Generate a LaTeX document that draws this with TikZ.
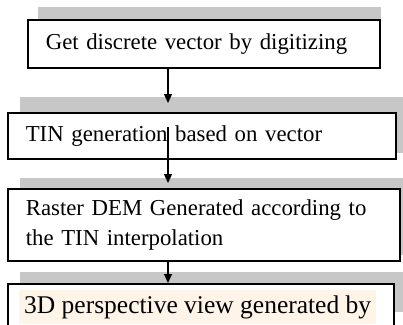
\documentclass[tikz,border=0pt]{standalone}
\usepackage{fontspec}
\setmainfont{Liberation Serif}
\usetikzlibrary{arrows.meta}
\usetikzlibrary{positioning}

\begin{document}
\begin{tikzpicture}[x=1pt,y=-1pt,
      box/.style={draw, line width=1.6pt, anchor=north west, inner xsep=18pt,
        inner ysep=0pt, align=left, font=\fontsize{22.8}{30}\selectfont},
      shade/.style={fill=black!22},
      flow/.style={line width=1.3pt, -{Triangle[length=9pt,width=8pt]}},
      ]
  \useasboundingbox (0,0) rectangle (403,324);
  \clip (0,0) rectangle (403,324);
  % shadows behind the boxes
  \fill[shade] (38,7) rectangle (381,48);
  \fill[shade] (20,97) rectangle (403,153);
  \fill[shade] (20,178) rectangle (403,255);
  \fill[shade] (20,272) rectangle (403,312);
  % steps
  \node[box, fill=white, text width=316pt, minimum height=48pt] (digit) at (27,19)
    {Get discrete vector by digitizing};
  \node[box, fill=white, text width=352pt, minimum height=46pt] (tin) at (7,112)
    {TIN generation based on vector};
  \node[box, fill=white, text width=356pt, minimum height=72pt] (raster) at (7,188)
    {Raster DEM Generated according to\\the TIN interpolation};
  \node[box, fill=white, text width=350pt, minimum height=70pt] (persp) at (7,283) {};
  \node[fill=orange!9, anchor=base west, inner xsep=5pt, inner ysep=5pt,
    font=\fontsize{25.5}{30}\selectfont] (persptext) at (19,313)
    {3D perspective view generated by};
  % arrows
  \coordinate (a1) at (168,103);
  \coordinate (a2s) at (168,127);
  \coordinate (a2) at (168,183);
  \draw[flow] (digit.south -| a1) -- (a1);
  \draw[flow] (a2s) -- (a2);
  \draw[flow] (raster.south -| a1) -- (persp.north -| a1);
\end{tikzpicture}
\end{document}
